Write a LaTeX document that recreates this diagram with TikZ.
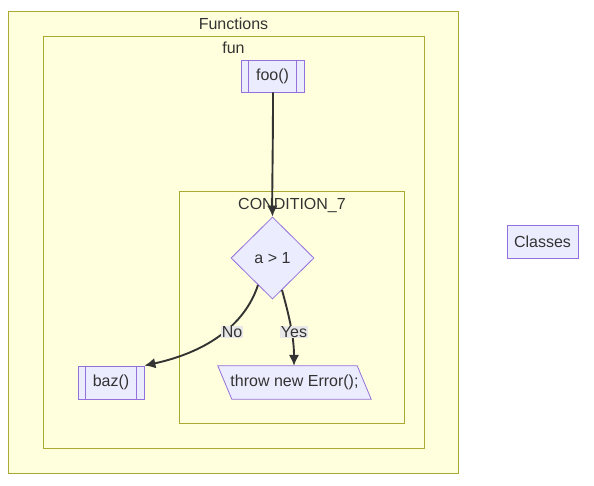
\documentclass[tikz,border=0pt]{standalone}
\usepackage{fontspec}
\setmainfont{Liberation Sans}
\usetikzlibrary{calc,arrows.meta,shapes.geometric}
\definecolor{clfill}{HTML}{FFFFDE}
\definecolor{clline}{HTML}{AAAA33}
\definecolor{ndfill}{HTML}{ECECFF}
\definecolor{ndline}{HTML}{9370DB}
\definecolor{txt}{HTML}{333333}
\definecolor{lblbg}{HTML}{E8E8E8}
\tikzset{
  cluster/.style={draw=clline, fill=clfill, line width=0.8pt},
  ctitle/.style={text=txt, font=\fontsize{16}{19}\selectfont, inner sep=0pt},
  nd/.style={draw=ndline, fill=ndfill, line width=0.8pt, text=txt, font=\fontsize{16}{19}\selectfont, inner sep=0pt},
  box/.style={nd, rectangle},
  dia/.style={nd, diamond, minimum width=83pt, minimum height=82pt},
  ghost/.style={rectangle, inner sep=0pt, text=txt, font=\fontsize{16}{19}\selectfont},
  inner/.style={draw=ndline, line width=0.8pt},
  edge/.style={draw=txt, line width=1.9pt, -{Latex[length=11pt,width=10.5pt]}},
  elbl/.style={fill=lblbg, text=txt, font=\fontsize{16}{19}\selectfont, inner sep=0.5pt},
}
\begin{document}
\begin{tikzpicture}[x=1pt,y=-1pt]
\useasboundingbox (0,0) rectangle (594,485);
% clusters
\draw[cluster] (8,11) rectangle (458,473);
\node[ctitle] (tFunctions) at (233.5,24) {Functions};
\draw[cluster] (43,36) rectangle (424,448);
\node[ctitle] (tfun) at (233.5,48) {fun};
\draw[cluster] (179,191) rectangle (404,423);
\node[ctitle] (tcond) at (292,205) {CONDITION\_7};
% nodes
\node[box, minimum width=63pt, minimum height=32pt] (foo) at (272.5,76) {foo()};
\draw[inner] ($(foo.north west)+(8,0)$) -- ($(foo.south west)+(8,0)$);
\draw[inner] ($(foo.north east)+(-8,0)$) -- ($(foo.south east)+(-8,0)$);
\node[dia] (cond) at (272.5,258) {a > 1};
\node[box, minimum width=66pt, minimum height=33pt] (baz) at (111,382.5) {baz()};
\draw[inner] ($(baz.north west)+(8,0)$) -- ($(baz.south west)+(8,0)$);
\draw[inner] ($(baz.north east)+(-8,0)$) -- ($(baz.south east)+(-8,0)$);
\node[ghost, minimum width=153pt, minimum height=33pt] (throw) at (294.5,382.5) {};
\draw[nd] ($(throw.north west)$) -- ($(throw.north east)+(-14,0)$) -- ($(throw.south east)$) -- ($(throw.south west)+(14,0)$) -- cycle;
\node[ghost] (throwtxt) at (throw.center) {throw new Error();};
\node[box, minimum width=71pt, minimum height=33pt] (classes) at (542.5,241.5) {Classes};
% edges
\draw[edge] (foo.south -| 273,0) .. controls (273,150) and (272,190) .. (cond.north);
\coordinate (noStart) at (258,285);
\coordinate (yesStart) at (282,290);
\draw[edge] (noStart) .. controls (250,310) and (225,348) .. (baz.north east);
\draw[edge] (yesStart) .. controls (288,312) and (294,335) .. (throw.north -| 294,0);
\node[elbl] (lno) at (232,332) {No};
\node[elbl] (lyes) at (294,332) {Yes};
\end{tikzpicture}
\end{document}
